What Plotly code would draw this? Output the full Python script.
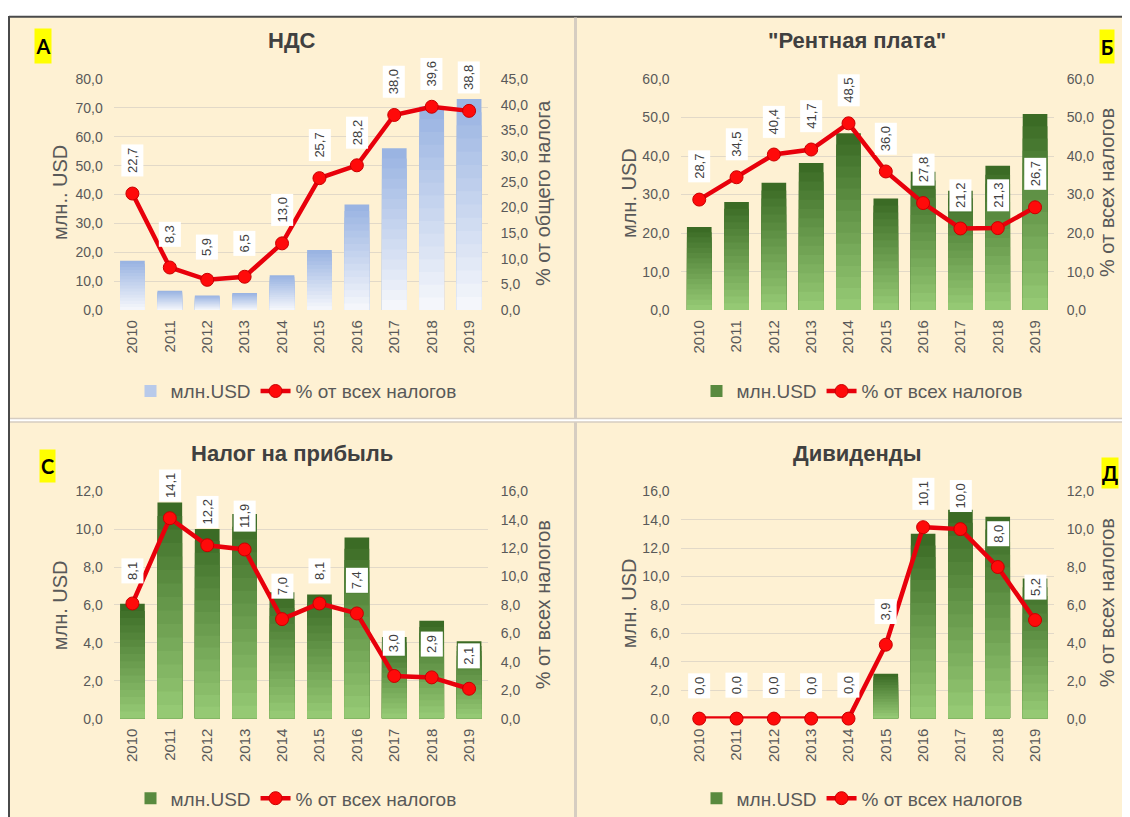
import plotly.graph_objects as go

# ---------------- data ----------------
years = [2010, 2011, 2012, 2013, 2014, 2015, 2016, 2017, 2018, 2019]
year_labels = ['2010', '2011', '2012', '2013', '2014', '2015', '2016', '2017', '2018', '2019']

nds_usd = [17.1, 6.7, 5.1, 5.9, 12.1, 20.8, 36.6, 56.0, 70.5, 73.1]
nds_pct = [22.7, 8.3, 5.9, 6.5, 13.0, 25.7, 28.2, 38.0, 39.6, 38.8]

rent_usd = [21.6, 28.1, 33.1, 38.2, 45.9, 29.0, 35.9, 31.0, 37.5, 50.9]
rent_pct = [28.7, 34.5, 40.4, 41.7, 48.5, 36.0, 27.8, 21.2, 21.3, 26.7]

profit_usd = [6.06, 11.4, 10.0, 10.8, 6.67, 6.55, 9.56, 4.3, 5.16, 4.08]
profit_pct = [8.1, 14.1, 12.2, 11.9, 7.0, 8.1, 7.4, 3.0, 2.9, 2.1]

div_usd = [0.0, 0.0, 0.0, 0.0, 0.0, 3.15, 13.0, 14.7, 14.2, 9.86]
div_pct = [0.0, 0.0, 0.0, 0.0, 0.0, 3.9, 10.1, 10.0, 8.0, 5.2]

titles = ['НДС', '"Рентная плата"', 'Налог на прибыль', 'Дивиденды']
letters = ['А', 'Б', 'С', 'Д']
left_titles = ['млн.. USD', 'млн. USD', 'млн. USD', 'млн. USD']
right_titles = ['% от общего налога', '% от всех налогов', '% от всех налогов', '% от всех налогов']
bar_name = 'млн.USD'
line_name = '% от всех налогов'

# ---------------- styling ----------------
OX, OY, SY = 8, 16, 0.98      # observed placement of the figure in the photo
W, H = 1114, 817
FONT = 'Liberation Sans Narrow, Arial Narrow, Liberation Sans, Arial, sans-serif'
CREAM = '#FEF1D3'
GRID = '#E2D9C8'
TICKC = '#595959'
RED = '#E8000B'


def px(x):
    return (x - OX) / W


def py(y):
    return 1 - (y - OY) / (SY * H)


def mix(c1, c2, t):
    a = [int(c1[i:i + 2], 16) for i in (1, 3, 5)]
    b = [int(c2[i:i + 2], 16) for i in (1, 3, 5)]
    return '#%02x%02x%02x' % tuple(round(a[i] + (b[i] - a[i]) * t) for i in range(3))


panels = [
    dict(usd=nds_usd, pct=nds_pct, lrange=[0, 80], ldt=10, rrange=[0, 45], rdt=5,
         xd=[113.7, 487.8], yd=[310, 79], top='#9AB4E2', bot='#F4F6FB',
         title_xy=(292, 40), letter_box=(43, 46, 16, 34),
         ltitle_x=60, rtitle_x=543, axt_y=193, legend_xy=(296, 391)),
    dict(usd=rent_usd, pct=rent_pct, lrange=[0, 60], ldt=10, rrange=[0, 60], rdt=10,
         xd=[680.6, 1053.7], yd=[310, 79], top='#3B6B25', bot='#95C974',
         title_xy=(857, 40), letter_box=(1107, 46, 14, 33),
         ltitle_x=629, rtitle_x=1107, axt_y=193, legend_xy=(862, 391)),
    dict(usd=profit_usd, pct=profit_pct, lrange=[0, 12], ldt=2, rrange=[0, 16], rdt=2,
         xd=[113.7, 487.8], yd=[718.3, 491], top='#3B6B25', bot='#95C974',
         title_xy=(292, 453), letter_box=(47, 466, 15, 32),
         ltitle_x=60, rtitle_x=543, axt_y=605, legend_xy=(296, 798)),
    dict(usd=div_usd, pct=div_pct, lrange=[0, 16], ldt=2, rrange=[0, 12], rdt=2,
         xd=[680.6, 1053.7], yd=[718.3, 491], top='#3B6B25', bot='#95C974',
         title_xy=(857, 453), letter_box=(1110, 473, 16, 30),
         ltitle_x=629, rtitle_x=1107, axt_y=603, legend_xy=(862, 798)),
]

fig = go.Figure()
annotations = []
N = 16

for i, p in enumerate(panels):
    xa = 'x' if i == 0 else 'x%d' % (i + 1)
    yl = 'y' if i == 0 else 'y%d' % (2 * i + 1)
    yr = 'y%d' % (2 * i + 2)
    leg = 'legend' if i == 0 else 'legend%d' % (i + 1)

    # gradient bars (overlaid layers, dark at top, light at bottom)
    for k in range(N):
        f = 1 - k / N
        col = mix(p['top'], p['bot'], k / (N - 1))
        fig.add_trace(go.Bar(
            x=years, y=[v * f for v in p['usd']], xaxis=xa, yaxis=yl,
            marker=dict(color=col, line=dict(width=0)), width=0.66,
            name=bar_name, legend=leg, showlegend=(k == N // 3),
            hoverinfo='skip'))

    fig.add_trace(go.Scatter(
        x=years, y=p['pct'], xaxis=xa, yaxis=yr, mode='lines+markers',
        line=dict(color=RED, width=4.5),
        marker=dict(size=13, color='#FF0A0A', line=dict(color='#C80000', width=1)),
        name=line_name, legend=leg, cliponaxis=False))

    xkey = 'xaxis' if i == 0 else 'xaxis%d' % (i + 1)
    ylkey = 'yaxis' if i == 0 else 'yaxis%d' % (2 * i + 1)
    yrkey = 'yaxis%d' % (2 * i + 2)
    dom_x = [px(p['xd'][0]), px(p['xd'][1])]
    dom_y = [py(p['yd'][0]), py(p['yd'][1])]
    fig.update_layout({
        xkey: dict(domain=dom_x, anchor=yl, type='linear',
                   range=[years[0] - 0.5, years[-1] + 0.5],
                   tickmode='array', tickvals=years, ticktext=year_labels,
                   tickangle=-90, showgrid=False, showline=False, zeroline=False,
                   ticks='', ticklabelstandoff=6,
                   tickfont=dict(family=FONT, size=15, color=TICKC)),
        ylkey: dict(domain=dom_y, anchor=xa, range=p['lrange'], dtick=p['ldt'],
                    tickformat='.1f', showgrid=True, gridcolor=GRID, gridwidth=1,
                    zeroline=False, showline=False, ticks='', ticklabelstandoff=10,
                    tickfont=dict(family=FONT, size=14, color=TICKC)),
        yrkey: dict(overlaying=yl, anchor=xa, side='right', range=p['rrange'],
                    dtick=p['rdt'], tickformat='.1f', showgrid=False,
                    zeroline=False, showline=False, ticks='', ticklabelstandoff=12,
                    tickfont=dict(family=FONT, size=14, color=TICKC)),
        leg: dict(x=px(p['legend_xy'][0]), y=py(p['legend_xy'][1]),
                  xanchor='center', yanchor='middle', orientation='h',
                  bgcolor='rgba(0,0,0,0)', itemwidth=30, tracegroupgap=0,
                  font=dict(family=FONT, size=19, color=TICKC)),
    })

    # value labels
    for yv, v in zip(years, p['pct']):
        annotations.append(dict(
            x=yv, y=v, xref=xa, yref=yr, text=('%.1f' % v).replace('.', ','),
            showarrow=False, textangle=-90, yshift=33, bgcolor='white',
            xanchor='center', yanchor='middle',
            borderpad=3, font=dict(family=FONT, size=13, color='#404040')))

    common = dict(xref='paper', yref='paper', showarrow=False,
                  xanchor='center', yanchor='middle')
    annotations.append(dict(
        x=px(p['title_xy'][0]), y=py(p['title_xy'][1]),
        text='<b>%s</b>' % titles[i],
        font=dict(family=FONT, size=22, color='#404040'), **common))
    lx, ly, lw, lh = p['letter_box']
    annotations.append(dict(
        x=px(lx), y=py(ly), text='<b>%s</b>' % letters[i],
        bgcolor='#FFFF00', width=lw, height=lh, borderpad=0,
        font=dict(family='Lato, Open Sans, sans-serif', size=20, color='black'),
        **common))
    annotations.append(dict(
        x=px(p['ltitle_x']), y=py(p['axt_y']), text=left_titles[i], textangle=-90,
        font=dict(family=FONT, size=20, color=TICKC), **common))
    annotations.append(dict(
        x=px(p['rtitle_x']), y=py(p['axt_y']), text=right_titles[i], textangle=-90,
        font=dict(family=FONT, size=20, color=TICKC), **common))

shapes = [
    dict(type='rect', xref='paper', yref='paper', x0=px(9), x1=1, y0=0, y1=1,
         fillcolor=CREAM, line=dict(width=0), layer='below'),
    dict(type='line', xref='paper', yref='paper', x0=px(9), x1=px(9), y0=0, y1=1,
         line=dict(color='#4A4A4A', width=2)),
    dict(type='line', xref='paper', yref='paper', x0=px(9), x1=1, y0=0.999, y1=0.999,
         line=dict(color='#4A4A4A', width=2)),
    dict(type='line', xref='paper', yref='paper', x0=px(575.5), x1=px(575.5), y0=0, y1=0.998,
         line=dict(color='#D6CDC1', width=3)),
    dict(type='line', xref='paper', yref='paper', x0=px(10), x1=1, y0=py(420), y1=py(420),
         line=dict(color='#D6CDC1', width=5)),
    dict(type='line', xref='paper', yref='paper', x0=px(10), x1=1, y0=py(420), y1=py(420),
         line=dict(color='#FFFFFF', width=2)),
]

fig.update_layout(
    width=W, height=H, margin=dict(l=0, r=0, t=0, b=0),
    paper_bgcolor='white', plot_bgcolor='rgba(0,0,0,0)',
    barmode='overlay', separators=', ',
    annotations=annotations, shapes=shapes,
    font=dict(family=FONT, color=TICKC),
)

fig.write_html('out.html')
